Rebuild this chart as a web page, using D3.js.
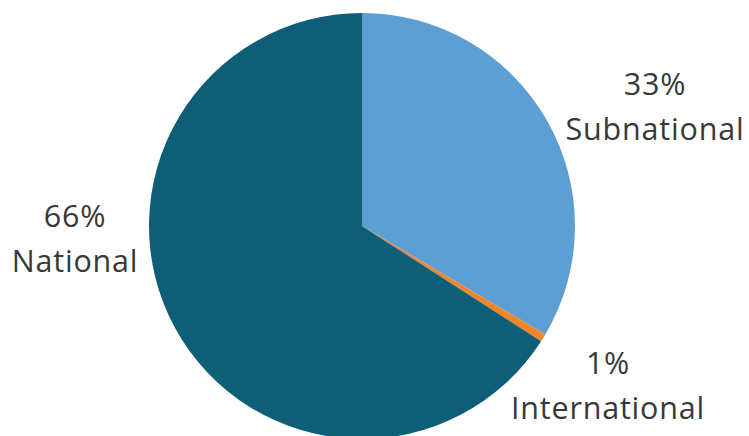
<!DOCTYPE html>
<html><head><meta charset="utf-8">
<script src="https://cdn.jsdelivr.net/npm/d3@7"></script>
<style>body{margin:0;background:#fff}svg{display:block}</style>
</head><body>
<svg id="c" width="749" height="436"></svg>
<script>
const categories = ["Subnational", "International", "National"];
const values = [33.5, 0.6, 65.9];
const pctLabels = ["33%", "1%", "66%"];
const colors = ["#5d9fd3", "#f0862a", "#0f5e78"];

const W = 749, H = 436;
const cx = 362, cy = 226, R = 213;
// label centers relative to pie center
const labelOffsets = [[293, -108], [246, 171], [-287, 24]];

const svg = d3.select("#c");
const g = svg.append("g").attr("transform", `translate(${cx},${cy})`);
const pie = d3.pie().sort(null).value(d => d)(values);
const arc = d3.arc().innerRadius(0).outerRadius(R);
g.selectAll("path").data(pie).join("path")
  .attr("d", arc).attr("fill", (d, i) => colors[i]);

const lab = g.selectAll("text.lab").data(pie).join("text")
  .attr("class", "lab")
  .attr("text-anchor", "middle")
  .attr("font-family", "Open Sans, sans-serif")
  .attr("font-size", 30.5)
  .attr("letter-spacing", 0.8)
  .attr("fill", "#383838")
  .attr("transform", (d, i) => `translate(${labelOffsets[i][0]},${labelOffsets[i][1]})`);
lab.append("tspan").attr("x", 0).attr("y", -23).text((d, i) => pctLabels[i]);
lab.append("tspan").attr("x", 0).attr("y", 22).text((d, i) => categories[i]);
</script>
</body></html>
